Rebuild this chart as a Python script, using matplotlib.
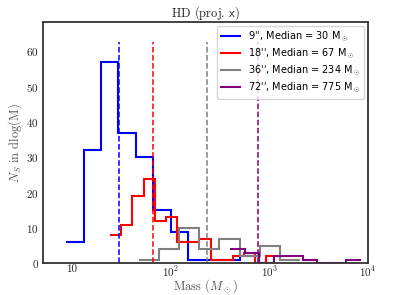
import matplotlib

matplotlib.use("Agg")

import matplotlib.pyplot as plt  # noqa: E402

plt.rcParams["mathtext.fontset"] = "cm"
plt.rcParams["font.family"] = ["cmr10", "DejaVu Serif"]
plt.rcParams["axes.formatter.use_mathtext"] = True

# bin edges (Msun) and counts per aperture
blue_edges = [8.74, 13.12, 19.70, 29.58, 44.42, 66.70, 100.1, 150.3, 225.8, 339.0, 509.1, 764.4]
blue_counts = [6, 32, 57, 37, 30, 15, 9, 1, 1, 1, 2]

red_edges = [24.33, 31.59, 41.01, 53.21, 69.06, 89.65, 116.3, 151.0, 196.0, 254.4,
             330.1, 428.6, 556.2, 722.1, 936.9, 1215.6]
red_counts = [8, 11, 19, 24, 12, 13, 6, 6, 7, 1, 1, 2, 3, 0, 2]

gray_edges = [47.8, 76.4, 122.2, 195.3, 312.2, 499.2, 797.7, 1275.5, 2039]
gray_counts = [1, 4, 10, 4, 7, 2, 5, 1]

purple_edges = [404.3, 566.7, 794.1, 1113, 1560, 2186, 3064, 4295, 6019, 8437]
purple_counts = [4, 3, 0, 2, 2, 1, 0, 0, 1]

apertures = ["9''", "18''", "36''", "72''"]
medians = [30, 67, 234, 775]
colors = ["blue", "red", "gray", "purple"]

xticks = [10, 100, 1000, 10000]
xtick_labels = ["10", "$10^2$", "$10^3$", "$10^4$"]

fig = plt.figure(figsize=(4.07, 2.95), dpi=100)
ax = fig.add_axes([0.106, 0.107, 0.798, 0.819])

series = [
    (blue_edges, blue_counts),
    (red_edges, red_counts),
    (gray_edges, gray_counts),
    (purple_edges, purple_counts),
]
vtop = max(blue_counts) * 1.1
for (edges, counts), ap, med, col in zip(series, apertures, medians, colors):
    ax.stairs(counts, edges, baseline=None, color=col, lw=1.5,
              label=f"{ap}, Median = {med} M$_\\odot$")
    ax.vlines(med, 0, vtop, colors=col, linestyles="--", lw=1.1)

ax.set_xscale("log")
ax.set_xlim(5.1, 1e4)
ax.set_ylim(0, 68.3)
ax.set_xticks(xticks)
ax.set_xticklabels(xtick_labels)
ax.minorticks_off()
ax.set_yticks(range(0, 61, 10))
ax.tick_params(length=0, labelsize=8, labelcolor="#222222")
ax.tick_params(axis="x", pad=1)
ax.tick_params(axis="y", pad=3)

for sp in ax.spines.values():
    sp.set_color("#333333")
    sp.set_linewidth(1.3)

ax.set_title("HD (proj. $\\mathsf{x}$)", fontsize=9, pad=4, color="#222222")
ax.set_xlabel("Mass ($M_\\odot$)", fontsize=9, color="#555555")
ax.xaxis.set_label_coords(0.5, -0.058)
ax.set_ylabel("$N_S$ in dlog(M)", fontsize=9, labelpad=2, color="#555555")

leg = ax.legend(loc="upper right", prop={"family": "DejaVu Sans", "size": 7},
                handlelength=2.0, borderaxespad=0.4, labelspacing=0.3)

fig.savefig("out.png", dpi=100)
